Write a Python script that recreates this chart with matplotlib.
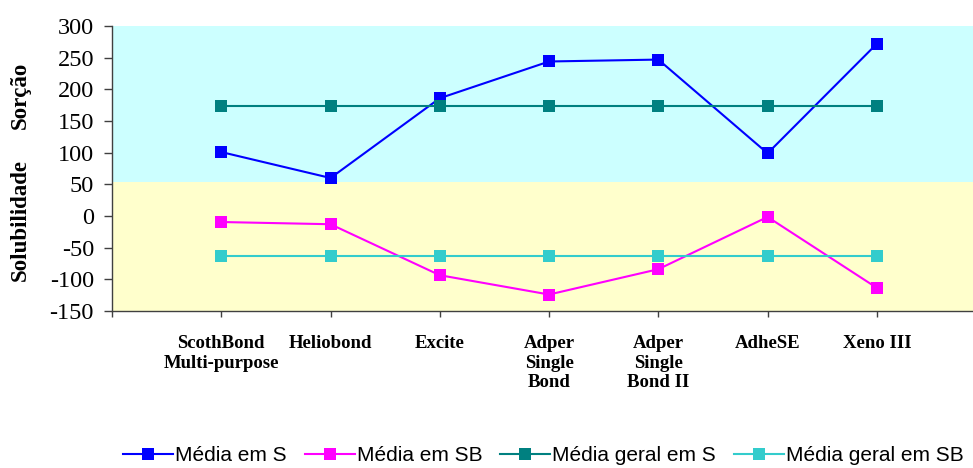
import numpy as np
import matplotlib
matplotlib.use("Agg")
import matplotlib.pyplot as plt

# adhesive systems on the x axis
categories = [
    "ScothBond\nMulti-purpose", "Heliobond", "Excite", "Adper\nSingle\nBond",
    "Adper\nSingle\nBond II", "AdheSE", "Xeno III",
]
media_s = [101, 60, 186, 244, 247, 99, 272]
media_sb = [-9.5, -13, -93.5, -124, -84, -1.5, -113.5]
geral_s = [173, 173, 173, 173, 173, 173, 173]
geral_sb = [-63.5, -63.5, -63.5, -63.5, -63.5, -63.5, -63.5]
y_ticks = [-150, -100, -50, 0, 50, 100, 150, 200, 250, 300]
# border between the two shaded bands (sorption above, solubility below)
band_split = 53

SERIF = ["Liberation Serif", "DejaVu Serif"]
SANS = ["Liberation Sans", "DejaVu Sans"]


def main():
    fig = plt.figure(figsize=(9.73, 4.68), dpi=100)
    ax = fig.add_axes([0.1151, 0.3355, 0.8849, 0.6089])
    x = np.arange(1, len(categories) + 1)

    ax.axhspan(band_split, 300, color="#CCFFFF", zorder=0, lw=0)
    ax.axhspan(-150, band_split, color="#FFFFCC", zorder=0, lw=0)

    style = dict(marker="s", markersize=8, linewidth=1.5, markeredgewidth=0)
    ax.plot(x, media_s, color="#0000FF", label="Média em S", **style)
    ax.plot(x, media_sb, color="#FF00FF", label="Média em SB", **style)
    ax.plot(x, geral_s, color="#008080", label="Média geral em S", **style)
    ax.plot(x, geral_sb, color="#33CCCC", label="Média geral em SB", **style)

    ax.set_xlim(0, 7.88)
    ax.set_ylim(-150, 300)
    ax.set_yticks(y_ticks)
    ax.set_yticklabels([str(v) for v in y_ticks], family=SERIF, fontsize=17.5)
    ax.set_xticks(np.arange(0, len(categories) + 1))
    ax.set_xticklabels([""] + categories, family=SERIF, fontsize=13.5,
                       fontweight="bold", va="top", linespacing=1.2)
    ax.tick_params(axis="y", direction="out", length=6, width=1, pad=7, colors="#404040",
                   labelcolor="black")
    ax.tick_params(axis="x", direction="out", length=4.5, width=1, pad=13, colors="#404040",
                   labelcolor="black")

    for side in ("top", "right"):
        ax.spines[side].set_visible(False)
    for side in ("left", "bottom"):
        ax.spines[side].set_color("#404040")
        ax.spines[side].set_linewidth(1)

    fig.text(0.021, 1 - 95 / 468, "Sorção", rotation=90, ha="center", va="center",
             family=SERIF, fontsize=16.5, fontweight="bold")
    fig.text(0.021, 1 - 220 / 468, "Solubilidade", rotation=90, ha="center", va="center",
             family=SERIF, fontsize=16.5, fontweight="bold")

    fig.legend(loc="center", bbox_to_anchor=(0.5586, 0.026), ncol=4, frameon=False,
               prop={"family": SANS, "size": 15}, handlelength=2.4, handletextpad=0.1,
               columnspacing=0.85, borderpad=0.1, markerscale=1.1)

    fig.savefig("out.png", dpi=100)


if __name__ == "__main__":
    main()
